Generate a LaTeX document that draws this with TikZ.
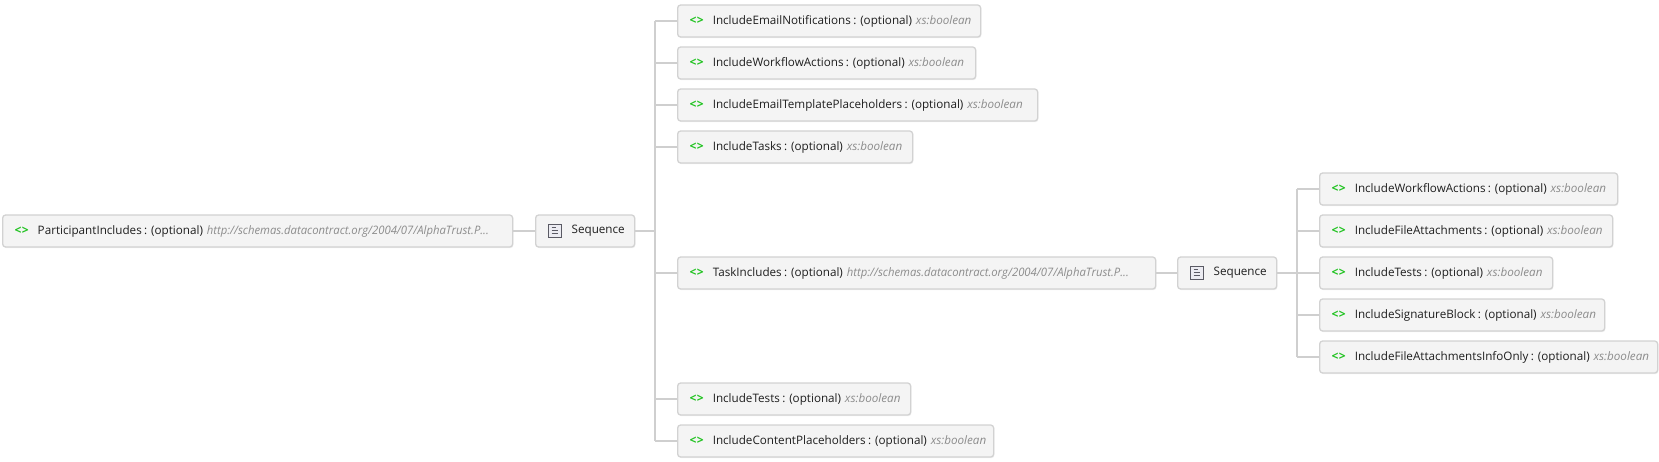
\documentclass[tikz,border=0pt]{standalone}
\usepackage{fontspec}
\usepackage{graphicx}
\setmainfont{Open Sans}
\usetikzlibrary{shadows}
\definecolor{icgreen}{HTML}{22C322}
\definecolor{urlgray}{HTML}{8C8C8C}
\definecolor{boxfill}{HTML}{F4F4F4}
\definecolor{boxline}{HTML}{D2D2D2}
\definecolor{connline}{HTML}{CFCFCF}
\definecolor{txt}{HTML}{1E1E1E}
\definecolor{seqicon}{HTML}{5A5A64}
\definecolor{seqfill}{HTML}{ECECF2}
\newlength\measlen
\newlength\urllen
\newcommand{\urltext}{http://schemas.datacontract.org/2004/07/AlphaTrust.P...}
\newcommand{\elicon}{\textcolor{icgreen}{\fontsize{12pt}{13pt}\selectfont\bfseries <\kern0.4pt>}}
\newcommand{\elname}[2]{\mbox{\elicon\hspace{9pt}#1\hspace{0.2em}: (optional) \textcolor{urlgray}{\itshape #2}}}
\newcommand{\urlname}[1]{\mbox{\elicon\hspace{9pt}#1\hspace{0.2em}: (optional) \textcolor{urlgray}{\itshape\scalebox{\urlsx}[1]{\urltext}}}}
\newcommand{\seqname}{\mbox{\hspace*{24pt}Sequence}}
\tikzset{
  box/.style={draw=boxline, line width=1.3pt, fill=boxfill, rounded corners=3pt,
    minimum height=32pt, inner xsep=12pt, inner ysep=0pt, anchor=west, align=left,
    text=txt, font=\fontsize{\fs pt}{13pt}\selectfont\frenchspacing,
    drop shadow={opacity=0.12, shadow xshift=0.8pt, shadow yshift=-1.2pt}},
  conn/.style={draw=connline, line width=1.6pt},
  seqic/.style={draw=seqicon, line width=0.9pt, fill=seqfill},
  seqln/.style={draw=seqicon, line width=0.9pt}
}
\begin{document}
% fit the font size to the reference text extents
\settowidth\measlen{\fontsize{10pt}{12pt}\selectfont\frenchspacing IncludeEmailNotifications\hspace{0.2em}: (optional) {\itshape xs:boolean}}
\pgfmathsetmacro\fs{10*257/\measlen}
\settowidth\urllen{\fontsize{\fs pt}{13pt}\selectfont\itshape \urltext}
\pgfmathsetmacro\urlsx{282/\urllen}
\begin{tikzpicture}[x=1pt,y=-1pt]
\useasboundingbox (0,0) rectangle (1659,462);
% root
\node[box, text width=486pt] (root) at (2,231) {\urlname{ParticipantIncludes}};
% sequence 1
\node[box, text width=75pt] (s1) at (535,231) {\seqname};
\draw[seqic] ([xshift=13.5pt,yshift=-6.5pt]s1.west) rectangle ([xshift=26pt,yshift=6.5pt]s1.west);
\draw[seqln] ([xshift=16.5pt,yshift=-2.5pt]s1.west) -- ([xshift=23pt,yshift=-2.5pt]s1.west)
  ([xshift=16.5pt,yshift=0.3pt]s1.west) -- ([xshift=23pt,yshift=0.3pt]s1.west)
  ([xshift=16.5pt,yshift=3.1pt]s1.west) -- ([xshift=21pt,yshift=3.1pt]s1.west);
% children of sequence 1
\node[box, text width=279pt] (c1) at (677,21) {\elname{IncludeEmailNotifications}{xs:boolean}};
\node[box, text width=274pt] (c2) at (677,63) {\elname{IncludeWorkflowActions}{xs:boolean}};
\node[box, text width=336pt] (c3) at (677,105) {\elname{IncludeEmailTemplatePlaceholders}{xs:boolean}};
\node[box, text width=211pt] (c4) at (677,147) {\elname{IncludeTasks}{xs:boolean}};
\node[box, text width=454pt] (c5) at (677,273) {\urlname{TaskIncludes}};
\node[box, text width=209pt] (c6) at (677,399) {\elname{IncludeTests}{xs:boolean}};
\node[box, text width=292pt] (c7) at (677,441) {\elname{IncludeContentPlaceholders}{xs:boolean}};
% sequence 2
\node[box, text width=75pt] (s2) at (1177,273) {\seqname};
\draw[seqic] ([xshift=13.5pt,yshift=-6.5pt]s2.west) rectangle ([xshift=26pt,yshift=6.5pt]s2.west);
\draw[seqln] ([xshift=16.5pt,yshift=-2.5pt]s2.west) -- ([xshift=23pt,yshift=-2.5pt]s2.west)
  ([xshift=16.5pt,yshift=0.3pt]s2.west) -- ([xshift=23pt,yshift=0.3pt]s2.west)
  ([xshift=16.5pt,yshift=3.1pt]s2.west) -- ([xshift=21pt,yshift=3.1pt]s2.west);
% children of sequence 2
\node[box, text width=274pt] (d1) at (1319,189) {\elname{IncludeWorkflowActions}{xs:boolean}};
\node[box, text width=269pt] (d2) at (1319,231) {\elname{IncludeFileAttachments}{xs:boolean}};
\node[box, text width=209pt] (d3) at (1319,273) {\elname{IncludeTests}{xs:boolean}};
\node[box, text width=261pt] (d4) at (1319,315) {\elname{IncludeSignatureBlock}{xs:boolean}};
\node[box, text width=314pt] (d5) at (1319,357) {\elname{IncludeFileAttachmentsInfoOnly}{xs:boolean}};
% connectors
\coordinate (t1) at (655,21);
\coordinate (t1b) at (655,441);
\coordinate (t2) at (1297,189);
\coordinate (t2b) at (1297,357);
\draw[conn] (root.east) -- (s1.west);
\draw[conn] (s1.east) -- (s1.east -| t1);
\draw[conn] (t1) -- (t1b);
\foreach \c in {c1,c2,c3,c4,c5,c6,c7} \draw[conn] (\c.west) -- (\c.west -| t1);
\draw[conn] (c5.east) -- (s2.west);
\draw[conn] (s2.east) -- (s2.east -| t2);
\draw[conn] (t2) -- (t2b);
\foreach \c in {d1,d2,d3,d4,d5} \draw[conn] (\c.west) -- (\c.west -| t2);
\end{tikzpicture}
\end{document}
